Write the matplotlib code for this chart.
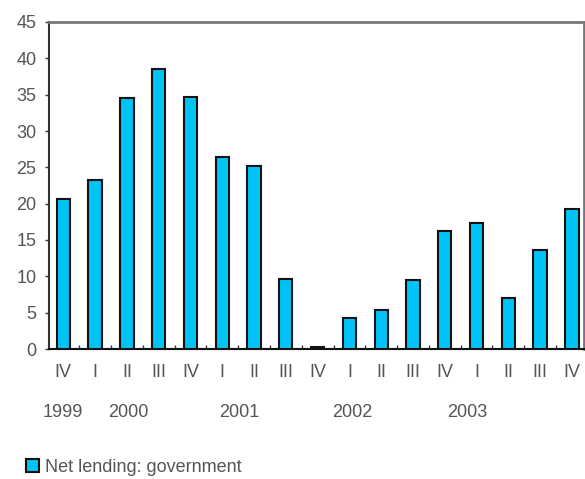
import matplotlib
matplotlib.use("Agg")
import matplotlib.pyplot as plt
from matplotlib.patches import Patch

quarters = ["IV", "I", "II", "III", "IV", "I", "II", "III", "IV",
            "I", "II", "III", "IV", "I", "II", "III", "IV"]
values = [20.7, 23.2, 34.5, 38.6, 34.7, 26.4, 25.2, 9.7, 0.3,
          4.2, 5.4, 9.5, 16.3, 17.4, 7.0, 13.6, 19.2]
years = ["1999", "2000", "2001", "2002", "2003"]
year_pos = [0, 2.05, 5.55, 9.1, 12.7]
series_name = "Net lending: government"

plt.rcParams['font.family'] = ['Liberation Sans', 'DejaVu Sans']
txt = "#555555"

fig = plt.figure(figsize=(5.85, 4.79), dpi=100)
ax = fig.add_axes([49/585, 1-349/479, (584-49)/585, (349-22)/479])

x = list(range(len(values)))
ax.bar(x, values, width=0.42, color="#00C3F5", edgecolor="#111111", linewidth=1.5, zorder=3)

ax.set_xlim(-0.45, 16.38)
ax.set_ylim(0, 45)
ax.set_yticks(range(0, 46, 5))
ax.tick_params(axis='y', labelsize=13, labelcolor=txt, direction='out', length=3, width=1, color="#333333", pad=6)
ax.set_xticks([i + 0.5 for i in range(16)])
ax.set_xticklabels([])
ax.tick_params(axis='x', direction='in', length=3, width=1, color="#333333")

for i, q in enumerate(quarters):
    ax.text(i, -3.2, q, ha='center', va='center', fontsize=13, color=txt)
for p, y in zip(year_pos, years):
    ax.text(p, -8.7, y, ha='center', va='center', fontsize=13, color=txt)

for s in ['top', 'right']:
    ax.spines[s].set_color("#777777")
    ax.spines[s].set_linewidth(2)
ax.spines['left'].set_color("#333333")
ax.spines['left'].set_linewidth(1.5)
ax.spines['bottom'].set_color("#111111")
ax.spines['bottom'].set_linewidth(1.5)

handle = Patch(facecolor="#00C3F5", edgecolor="#111111", linewidth=1.5)
fig.legend([handle], [series_name], loc='center left', bbox_to_anchor=(17/585, 1-467/479),
           frameon=False, fontsize=13, labelcolor=txt, handlelength=0.7, handleheight=0.7,
           handletextpad=0.35, borderpad=0)

fig.savefig("out.png", dpi=100)
